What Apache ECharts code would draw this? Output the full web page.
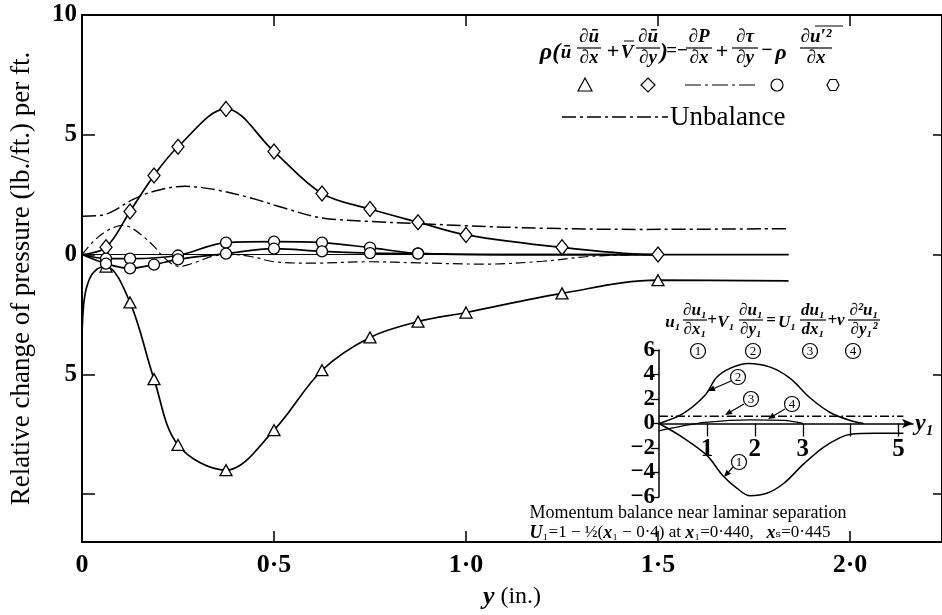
<!DOCTYPE html>
<html><head><meta charset="utf-8">
<script src="https://cdn.jsdelivr.net/npm/echarts@6/dist/echarts.min.js"></script>
<style>html,body{margin:0;padding:0;background:#fff}#c{width:942px;height:615px}</style>
</head><body><div id="c"></div>
<script>
// ---------- data ----------
const xTickValues = [0, 0.5, 1.0, 1.5, 2.0];
const yTickValues = [-10, -5, 0, 5, 10];
const yLabelValues = [-5, 0, 5, 10];

// diamonds: rho V du/dy
const diamondPts = [[0.0625,0.3],[0.125,1.8],[0.1875,3.3],[0.25,4.5],[0.375,6.08],[0.5,4.3],[0.625,2.55],[0.75,1.9],[0.875,1.35],[1.0,0.82],[1.25,0.3],[1.5,0.0]];
const diamondHead = [[0,0]];
const diamondTail = [[1.84,0]];

// triangles: rho u du/dx
const trianglePts = [[0.0625,-0.5],[0.125,-2.0],[0.1875,-5.2],[0.25,-7.95],[0.375,-9.0],[0.5,-7.33],[0.625,-4.83],[0.75,-3.46],[0.875,-2.8],[1.0,-2.42],[1.25,-1.62],[1.5,-1.07]];
const triangleHead = [[0,-3.4],[0.006,-1.85],[0.02,-1.0],[0.04,-0.6]];
const triangleTail = [[1.84,-1.1]];

// circles: d tau / dy
const tauPts = [[0.0625,-0.17],[0.125,-0.17],[0.25,-0.04],[0.375,0.5],[0.5,0.54],[0.625,0.5],[0.75,0.29],[0.875,0.05]];
const tauHead = [[0,0]];
const tauTail = [[1.1,0.0],[1.5,0.0]];

// hexagons: -rho d(u'^2)/dx
const hexPts = [[0.0625,-0.38],[0.125,-0.58],[0.1875,-0.42],[0.25,-0.2],[0.375,0.04],[0.5,0.25],[0.625,0.13],[0.75,0.06],[0.875,0.04]];
const hexHead = [[0,0]];
const hexTail = [[1.1,0.0],[1.5,0.0]];

// -dP/dx (dash-dot)
const dpdxCurve = [[0,0],[0.03,0.55],[0.06,0.95],[0.09,1.17],[0.107,1.22],[0.13,1.1],[0.16,0.75],[0.19,0.3],[0.21,-0.07],[0.235,-0.4],[0.255,-0.5],[0.275,-0.43],[0.3,-0.3],[0.34,-0.07],[0.39,0.0],[0.445,-0.1],[0.5,-0.3],[0.6,-0.36],[0.75,-0.3],[0.88,-0.35],[1.05,-0.4],[1.2,-0.28],[1.33,-0.07],[1.5,0.0]];

// Unbalance (long dash)
const unbalanceCurve = [[0,1.6],[0.04,1.62],[0.073,1.75],[0.133,2.3],[0.185,2.63],[0.268,2.85],[0.35,2.7],[0.44,2.36],[0.525,1.95],[0.62,1.54],[0.75,1.38],[0.88,1.29],[1.0,1.2],[1.2,1.1],[1.45,1.05],[1.84,1.08]];

const zeroLine = [[0,0],[1.84,0]];

// inset: momentum balance near laminar separation
const insetXTicks = [1,2,3,4,5];
const insetXLabels = [1,2,3,5];
const inset1 = [[0,0],[0.5,-1.15],[1.0,-2.6],[1.32,-4.2],[1.63,-5.3],[1.9,-5.9],[2.25,-5.7],[2.6,-4.9],[3.02,-3.3],[3.43,-1.95],[3.78,-1.15],[4.0,-0.88],[4.5,-0.8],[5.1,-0.8]];
const inset2 = [[0,0],[0.5,0.8],[0.96,2.3],[1.2,3.75],[1.48,4.5],[1.86,4.9],[2.32,4.6],[2.73,3.7],[3.15,2.1],[3.57,0.9],[3.99,0.25],[4.27,0]];
const inset3 = [[0,0.6],[5.1,0.6]];
const inset4 = [[0,-0.6],[0.5,-0.2],[0.96,0.1],[1.9,0.3],[2.6,0.25],[3.0,0.0]];

// ---------- helpers ----------
const SERIF = "'Liberation Serif','DejaVu Serif',serif";
const BLACK = '#000';
const dot = v => v === 0 ? '0' : v.toFixed(1).replace('.', '\u00B7');

function curveSeries(head, pts, tail, opts) {
  return Object.assign({
    type: 'line', data: head.concat(pts, tail), smooth: 0.35,
    showSymbol: false, symbol: 'none', silent: true,
    lineStyle: { color: BLACK, width: 1.7 }
  }, opts || {});
}
function markerSeries(pts, symbol, size) {
  return { type: 'scatter', data: pts, symbol, symbolSize: size, z: 5, silent: true,
    itemStyle: { color: '#fff', borderColor: BLACK, borderWidth: 1.3, opacity: 1 } };
}
function T(x, y, s, o) {
  o = o || {};
  return { type: 'text', x, y, z: 10, silent: true, style: Object.assign({
    text: s, fill: BLACK, fontFamily: SERIF, fontSize: o.size || 20,
    fontWeight: o.weight || 'normal', fontStyle: o.italic ? 'italic' : 'normal',
    align: o.align || 'center', verticalAlign: o.va || 'middle'
  }, o.style || {}) };
}
function L(x1, y1, x2, y2, w, dash) {
  const st = { stroke: BLACK, lineWidth: w || 1.2 };
  if (dash) st.lineDash = dash;
  return { type: 'line', z: 10, silent: true, shape: { x1, y1, x2, y2 }, style: st };
}
function frac(cx, bar, num, den, w, size) {
  const o = { size, weight: 'bold', italic: true };
  return [
    T(cx, bar - 1, num, Object.assign({ va: 'bottom' }, o)),
    L(cx - w / 2, bar, cx + w / 2, bar, 1.2),
    T(cx, bar + 1, den, Object.assign({ va: 'top' }, o))
  ];
}
function poly(points) {
  return { type: 'polygon', z: 10, silent: true, shape: { points }, style: { fill: '#fff', stroke: BLACK, lineWidth: 1.2 } };
}
function circ(cx, cy, r) {
  return { type: 'circle', z: 10, silent: true, shape: { cx, cy, r }, style: { fill: '#fff', stroke: BLACK, lineWidth: 1.2 } };
}
function circled(cx, cy, d) {
  return [circ(cx, cy, 7.5), T(cx, cy + 1, d, { size: 13 })];
}
function arrow(x1, y1, x2, y2) {
  const a = Math.atan2(y2 - y1, x2 - x1), L1 = 7, W = 3;
  const bx = x2 - L1 * Math.cos(a), by = y2 - L1 * Math.sin(a);
  const px = -Math.sin(a) * W, py = Math.cos(a) * W;
  return [L(x1, y1, bx, by, 1.2),
    { type: 'polygon', z: 10, silent: true, shape: { points: [[x2, y2], [bx + px, by + py], [bx - px, by - py]] }, style: { fill: BLACK } }];
}

// ---------- graphics (equations, legend keys, annotations) ----------
let g = [];
// main equation
const EQ = 19, BAR = 48;
g.push(T(550, 53, 'ρ(', { size: 24, italic: true, weight: 'bold' }));
g.push(T(566, 53, 'ū', { size: EQ, italic: true, weight: 'bold' }));
g = g.concat(frac(589, BAR, '∂ū', '∂x', 24, EQ));
g.push(T(613, 52, '+', { size: 22, weight: 'bold' }));
g.push(T(627, 53, 'V', { size: EQ, italic: true, weight: 'bold' }));
g.push(L(624, 41, 634, 41, 1));
g = g.concat(frac(648, BAR, '∂ū', '∂y', 24, EQ));
g.push(T(664, 53, ')', { size: 24, italic: true, weight: 'bold' }));
g.push(T(677, 51, '=−', { size: 19, weight: 'bold' }));
g = g.concat(frac(699, BAR, '∂P', '∂x', 26, EQ));
g.push(T(722, 52, '+', { size: 22, weight: 'bold' }));
g = g.concat(frac(745, BAR, '∂τ', '∂y', 26, EQ));
g.push(T(767, 51, '−', { size: 20, weight: 'bold' }));
g.push(T(781, 53, 'ρ', { size: 22, italic: true, weight: 'bold' }));
g = g.concat(frac(816, BAR, '∂u′²', '∂x', 32, EQ));
g.push(L(815, 26, 843, 26, 1));
// legend keys row
const KY = 85;
g.push(poly([[585, KY - 7], [592, KY + 6], [578, KY + 6]]));
g.push(poly([[648, KY - 7], [655, KY], [648, KY + 7], [641, KY]]));
g.push(L(685, KY, 757, KY, 1.2, [16, 4, 3, 4]));
g.push(circ(777, KY, 6));
g.push(poly([[827, KY], [830, KY - 5.5], [836, KY - 5.5], [839, KY], [836, KY + 5.5], [830, KY + 5.5]]));
// Unbalance key
g.push(L(562, 117, 668, 117, 1.5, [14, 4, 3, 4]));
g.push(T(670, 118, 'Unbalance', { size: 27, align: 'left' }));

// inset equation
const IE = 17, IB = 320;
g.push(T(673, 323, 'u₁', { size: IE, italic: true, weight: 'bold' }));
g = g.concat(frac(695, IB, '∂u₁', '∂x₁', 24, IE));
g.push(T(712, 321, '+', { size: 17, weight: 'bold' }));
g.push(T(726, 323, 'V₁', { size: IE, italic: true, weight: 'bold' }));
g = g.concat(frac(751, IB, '∂u₁', '∂y₁', 24, IE));
g.push(T(771, 321, '=', { size: 17, weight: 'bold' }));
g.push(T(787, 323, 'U₁', { size: IE, italic: true, weight: 'bold' }));
g = g.concat(frac(813, IB, 'du₁', 'dx₁', 26, IE));
g.push(T(836, 321, '+ν', { size: IE, italic: true, weight: 'bold' }));
g = g.concat(frac(864, IB, '∂²u₁', '∂y₁²', 32, IE));
// circled term numbers
g = g.concat(circled(698, 351, '1'), circled(753, 351, '2'), circled(810, 351, '3'), circled(853, 351, '4'));
// curve annotations in the inset
g = g.concat(circled(738, 377, '2'), arrow(731, 381, 708, 391));
g = g.concat(circled(751, 399, '3'), arrow(744, 404, 725, 415));
g = g.concat(circled(792, 404, '4'), arrow(785, 409, 768, 419));
g = g.concat(circled(739, 462, '1'), arrow(733, 467, 724, 477));
// inset axis name
g.push(T(915, 424, 'y₁', { size: 24, italic: true, weight: 'bold', align: 'left' }));
// inset caption
g.push(T(688, 513, 'Momentum balance near laminar separation', { size: 18 }));
g.push({ type: 'text', x: 680, y: 533, z: 10, silent: true, style: {
  text: '{i|U}₁=1 − ½({i|x}₁ − 0·4) at {i|x}₁=0·440,   {i|x}ₛ=0·445',
  fill: BLACK, fontFamily: SERIF, fontSize: 17, align: 'center', verticalAlign: 'middle',
  rich: { i: { fontFamily: SERIF, fontSize: 18, fontStyle: 'italic', fontWeight: 'bold' } } } });

// ---------- chart ----------
const axisLineStyle = { color: BLACK, width: 2 };
const chart = echarts.init(document.getElementById('c'), null, { renderer: 'canvas' });
chart.setOption({
  backgroundColor: '#fff',
  animation: false,
  grid: [
    { left: 82, top: 15, width: 860, height: 528 },
    { left: 659, top: 350, width: 254, height: 147 }
  ],
  xAxis: [
    { gridIndex: 0, type: 'value', min: 0, max: 860 / 384, position: 'bottom',
      axisLine: { onZero: false, lineStyle: axisLineStyle },
      axisTick: { inside: true, length: 11, customValues: xTickValues.slice(1), lineStyle: { color: BLACK, width: 1.5 } },
      axisLabel: { customValues: xTickValues, formatter: dot, color: BLACK, fontFamily: SERIF, fontWeight: 'bold', fontSize: 26, margin: 10 },
      splitLine: { show: false },
      name: '{i|y} (in.)', nameLocation: 'middle', nameGap: 42,
      nameTextStyle: { color: BLACK, fontFamily: SERIF, fontSize: 24,
        rich: { i: { fontFamily: SERIF, fontSize: 26, fontStyle: 'italic', fontWeight: 'bold' } } } },
    { gridIndex: 0, type: 'value', min: 0, max: 860 / 384, position: 'top',
      axisLine: { onZero: false, lineStyle: axisLineStyle },
      axisTick: { inside: true, length: 11, customValues: xTickValues.slice(1), lineStyle: { color: BLACK, width: 1.5 } },
      axisLabel: { show: false }, splitLine: { show: false } },
    { gridIndex: 1, type: 'value', min: 0, max: 5.3, position: 'bottom', offset: -73.5,
      axisLine: { onZero: false, symbol: ['none', 'arrow'], symbolSize: [7, 11], lineStyle: { color: BLACK, width: 1.5 } },
      axisTick: { inside: false, length: 13, customValues: insetXTicks, lineStyle: { color: BLACK, width: 1.3 } },
      axisLabel: { customValues: insetXLabels, color: BLACK, fontFamily: SERIF, fontWeight: 'bold', fontSize: 25, margin: 14 },
      splitLine: { show: false } }
  ],
  yAxis: [
    { gridIndex: 0, type: 'value', min: -12, max: 10, position: 'left',
      axisLine: { onZero: false, lineStyle: axisLineStyle },
      axisTick: { inside: true, length: 13, customValues: yTickValues, lineStyle: { color: BLACK, width: 1.5 } },
      axisLabel: { customValues: yLabelValues, formatter: v => String(Math.abs(v)), color: BLACK, fontFamily: SERIF, fontWeight: 'bold', fontSize: 25, margin: 5 },
      splitLine: { show: false },
      name: 'Relative change of pressure (lb./ft.) per ft.', nameLocation: 'middle', nameGap: 47, nameRotate: 90,
      nameTextStyle: { color: BLACK, fontFamily: SERIF, fontSize: 27 } },
    { gridIndex: 0, type: 'value', min: -12, max: 10, position: 'right',
      axisLine: { onZero: false, lineStyle: axisLineStyle },
      axisTick: { inside: true, length: 9, customValues: [-10, -5, 0, 5], lineStyle: { color: BLACK, width: 1.5 } },
      axisLabel: { show: false }, splitLine: { show: false } },
    { gridIndex: 1, type: 'value', min: -6, max: 6, interval: 2,
      axisLine: { onZero: false, lineStyle: { color: BLACK, width: 1.5 } },
      axisTick: { inside: false, length: 8, lineStyle: { color: BLACK, width: 1.3 } },
      axisLabel: { formatter: v => (v < 0 ? '−' : '') + Math.abs(v), color: BLACK, fontFamily: SERIF, fontWeight: 'bold', fontSize: 23, margin: 4 },
      splitLine: { show: false } }
  ],
  series: [
    { type: 'line', data: zeroLine, symbol: 'none', silent: true, lineStyle: { color: BLACK, width: 1 } },
    curveSeries(unbalanceCurve, [], [], { lineStyle: { color: BLACK, width: 1.5, type: [14, 4, 3, 4] } }),
    curveSeries(dpdxCurve, [], [], { lineStyle: { color: BLACK, width: 1.2, type: [10, 4, 3, 4] } }),
    curveSeries(diamondHead, diamondPts, diamondTail),
    curveSeries(triangleHead, trianglePts, triangleTail),
    curveSeries(tauHead, tauPts, tauTail),
    curveSeries(hexHead, hexPts, hexTail),
    markerSeries(diamondPts, 'diamond', [12, 15]),
    markerSeries(trianglePts, 'triangle', [12, 11]),
    markerSeries(tauPts, 'circle', 11),
    markerSeries(hexPts, 'circle', 11),
    Object.assign(curveSeries(inset1, [], []), { xAxisIndex: 2, yAxisIndex: 2, lineStyle: { color: BLACK, width: 1.5 } }),
    Object.assign(curveSeries(inset2, [], []), { xAxisIndex: 2, yAxisIndex: 2, lineStyle: { color: BLACK, width: 1.5 } }),
    Object.assign(curveSeries(inset3, [], []), { xAxisIndex: 2, yAxisIndex: 2, lineStyle: { color: BLACK, width: 1.5, type: [9, 3, 2, 3] } }),
    Object.assign(curveSeries(inset4, [], []), { xAxisIndex: 2, yAxisIndex: 2, lineStyle: { color: BLACK, width: 1.3 } })
  ],
  graphic: g
});
</script>
</body></html>
